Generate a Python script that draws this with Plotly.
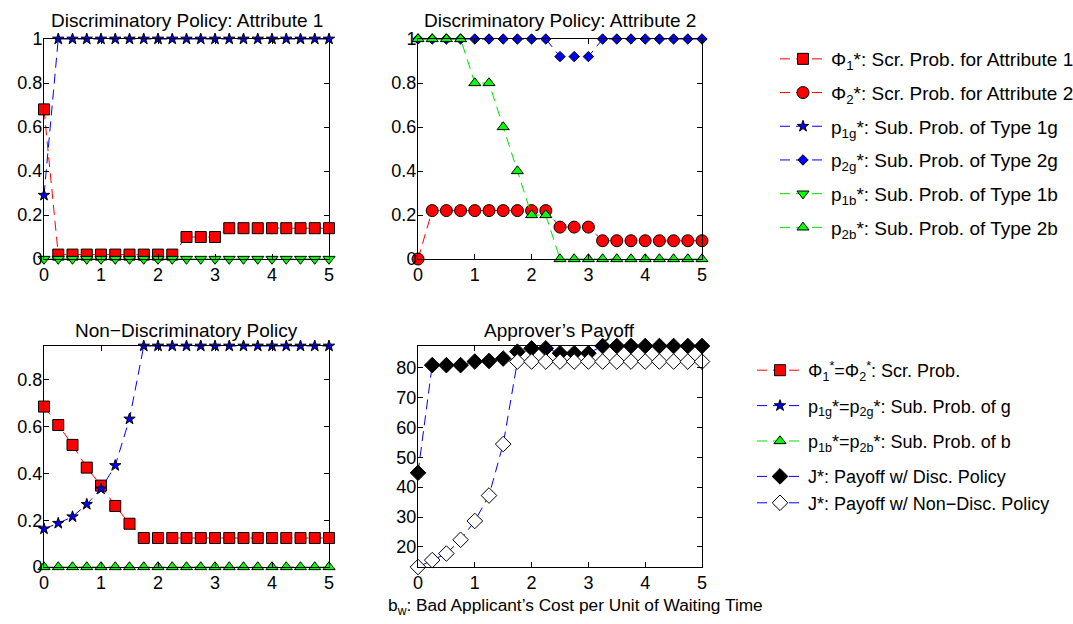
import plotly.graph_objects as go

# ---------------- data ----------------
x = [0, 0.25, 0.5, 0.75, 1.0, 1.25, 1.5, 1.75, 2.0, 2.25, 2.5,
     2.75, 3.0, 3.25, 3.5, 3.75, 4.0, 4.25, 4.5, 4.75, 5.0]

# Discriminatory policy, attribute 1
phi1 = [0.68, 0.02, 0.02, 0.02, 0.02, 0.02, 0.02, 0.02, 0.02, 0.02, 0.10,
        0.10, 0.10, 0.14, 0.14, 0.14, 0.14, 0.14, 0.14, 0.14, 0.14]
p1g = [0.29, 1, 1, 1, 1, 1, 1, 1, 1, 1, 1, 1, 1, 1, 1, 1, 1, 1, 1, 1, 1]
p1b = [0, 0, 0, 0, 0, 0, 0, 0, 0, 0, 0, 0, 0, 0, 0, 0, 0, 0, 0, 0, 0]

# Discriminatory policy, attribute 2
phi2 = [0.0, 0.22, 0.22, 0.22, 0.22, 0.22, 0.22, 0.22, 0.22, 0.22, 0.145,
        0.145, 0.145, 0.083, 0.083, 0.083, 0.083, 0.083, 0.083, 0.083, 0.083]
p2g = [1, 1, 1, 1, 1, 1, 1, 1, 1, 1, 0.92, 0.92, 0.92, 1, 1, 1, 1, 1, 1, 1, 1]
p2b = [1, 1, 1, 1, 0.8, 0.8, 0.6, 0.4, 0.2, 0.2, 0, 0, 0, 0, 0, 0, 0, 0, 0, 0, 0]

# Non-discriminatory policy
phi_nd = [0.686, 0.607, 0.522, 0.425, 0.348, 0.261, 0.185, 0.124, 0.124, 0.124, 0.124,
          0.124, 0.124, 0.124, 0.124, 0.124, 0.124, 0.124, 0.124, 0.124, 0.124]
pg_nd = [0.163, 0.187, 0.215, 0.268, 0.334, 0.434, 0.633, 0.945, 0.945, 0.945, 0.945,
         0.945, 0.945, 0.945, 0.945, 0.945, 0.945, 0.945, 0.945, 0.945, 0.945]
pb_nd = [0, 0, 0, 0, 0, 0, 0, 0, 0, 0, 0, 0, 0, 0, 0, 0, 0, 0, 0, 0, 0]

# Approver's payoff
J_disc = [44.8, 80.8, 80.8, 80.8, 82.0, 82.2, 83.0, 85.3, 86.4, 86.4, 84.8,
          84.8, 84.8, 87.2, 87.2, 87.2, 87.2, 87.2, 87.2, 87.2, 87.2]
J_nd = [13.3, 15.6, 17.8, 22.4, 28.7, 37.2, 54.4, 82.0, 82.0, 82.0, 82.0,
        82.0, 82.0, 82.0, 82.0, 82.0, 82.0, 82.0, 82.0, 82.0, 82.0]

titles = ["Discriminatory Policy: Attribute 1", "Discriminatory Policy: Attribute 2",
          "Non−Discriminatory Policy", "Approver’s Payoff"]
xlabel = "b<sub>w</sub>: Bad Applicant’s Cost per Unit of Waiting Time"
xticks = [0, 1, 2, 3, 4, 5]
yticks_prob = [0, 0.2, 0.4, 0.6, 0.8, 1]
yticks_pay = [20, 30, 40, 50, 60, 70, 80]

# ---------------- figure ----------------
W, H = 1073, 624
FONT = "Liberation Sans, Arial, Helvetica, sans-serif"
RED, BLUE, GREEN = "#FF0000", "#0000FF", "#00E000"
LIME = "#00FF00"
DASH = "10px,6px"

fig = go.Figure()


def add(xa, ya, y, name, color, symbol, size, fill, legend, group, rank):
    fig.add_trace(go.Scatter(
        x=x, y=y, xaxis=xa, yaxis=ya, name=name, mode="lines+markers",
        line=dict(color=color, width=1, dash=DASH),
        marker=dict(symbol=symbol, size=size, color=fill,
                    line=dict(color="black", width=1)),
        cliponaxis=False, legend=legend, legendgroup=group, legendrank=rank,
    ))


# top-left
add("x", "y", phi1, "Φ<sub>1</sub>*: Scr. Prob. for Attribute 1", RED, "square", 11, RED, "legend", "a1", 1)
add("x", "y", p1g, "p<sub>1g</sub>*: Sub. Prob. of Type 1g", BLUE, "star", 8.5, BLUE, "legend", "a3", 3)
add("x", "y", p1b, "p<sub>1b</sub>*: Sub. Prob. of Type 1b", GREEN, "triangle-down", 10.5, LIME, "legend", "a5", 5)
# top-right
add("x2", "y2", phi2, "Φ<sub>2</sub>*: Scr. Prob. for Attribute 2", RED, "circle", 12, RED, "legend", "a2", 2)
add("x2", "y2", p2g, "p<sub>2g</sub>*: Sub. Prob. of Type 2g", BLUE, "diamond", 8, BLUE, "legend", "a4", 4)
add("x2", "y2", p2b, "p<sub>2b</sub>*: Sub. Prob. of Type 2b", GREEN, "triangle-up", 10.5, LIME, "legend", "a6", 6)
# bottom-left
add("x3", "y3", phi_nd, "Φ<sub>1</sub><sup>*</sup>=Φ<sub>2</sub><sup>*</sup>: Scr. Prob.", RED, "square", 11, RED, "legend2", "b1", 1)
add("x3", "y3", pg_nd, "p<sub>1g</sub>*=p<sub>2g</sub>*: Sub. Prob. of g", BLUE, "star", 8.5, BLUE, "legend2", "b2", 2)
add("x3", "y3", pb_nd, "p<sub>1b</sub>*=p<sub>2b</sub>*: Sub. Prob. of b", GREEN, "triangle-up", 10.5, LIME, "legend2", "b3", 3)
# bottom-right
add("x4", "y4", J_disc, "J*: Payoff w/ Disc. Policy", BLUE, "diamond", 12, "black", "legend2", "b4", 4)
add("x4", "y4", J_nd, "J*: Payoff w/ Non−Disc. Policy", BLUE, "diamond", 12, "white", "legend2", "b4", 5)

# domains in pixels
xl = [44 / W, 329 / W]
xr = [418 / W, 702 / W]
yt = [1 - 259 / H, 1 - 39 / H]
yb = [1 - 567 / H, 1 - 346 / H]

axis_common = dict(showline=True, linecolor="black", linewidth=1, mirror="ticks",
                   ticks="inside", ticklen=5, tickcolor="black", showgrid=False,
                   zeroline=False, tickfont=dict(size=18, color="black", family=FONT))
xa_common = dict(range=[0, 5], tickvals=xticks, ticklabelstandoff=-1, **axis_common)
ya_common = dict(ticklabelstandoff=-3, **axis_common)

fig.update_layout(
    width=W, height=H, margin=dict(l=0, r=0, t=0, b=0, pad=0, autoexpand=False),
    paper_bgcolor="white", plot_bgcolor="white",
    font=dict(family=FONT, color="black"),
    xaxis=dict(domain=xl, anchor="y", **xa_common),
    yaxis=dict(domain=yt, anchor="x", range=[0, 1], tickvals=yticks_prob, **ya_common),
    xaxis2=dict(domain=xr, anchor="y2", **xa_common),
    yaxis2=dict(domain=yt, anchor="x2", range=[0, 1], tickvals=yticks_prob, **ya_common),
    xaxis3=dict(domain=xl, anchor="y3", **xa_common),
    yaxis3=dict(domain=yb, anchor="x3", range=[0, max(pg_nd)], tickvals=yticks_prob[:-1], **ya_common),
    xaxis4=dict(domain=xr, anchor="y4", **xa_common),
    yaxis4=dict(domain=yb, anchor="x4", range=[min(J_nd), max(J_disc)], tickvals=yticks_pay, **ya_common),
    legend=dict(x=775 / W, y=1 - 40 / H, xanchor="left", yanchor="top",
                font=dict(size=19, family=FONT, color="black"), tracegroupgap=6,
                bgcolor="rgba(0,0,0,0)", itemwidth=46),
    legend2=dict(x=752 / W, y=1 - 352 / H, xanchor="left", yanchor="top",
                 font=dict(size=18, family=FONT, color="black"), tracegroupgap=9,
                 bgcolor="rgba(0,0,0,0)", itemwidth=46),
    showlegend=True,
)

# subplot titles
title_pos = [((xl[0] + xl[1]) / 2, 1 - 21 / H), ((xr[0] + xr[1]) / 2, 1 - 21 / H),
             ((xl[0] + xl[1]) / 2, 1 - 330 / H), ((xr[0] + xr[1]) / 2, 1 - 330 / H)]
for t, (tx, ty) in zip(titles, title_pos):
    fig.add_annotation(text=t, x=tx, y=ty, xref="paper", yref="paper", showarrow=False,
                       xanchor="center", yanchor="middle",
                       font=dict(size=19, family=FONT, color="black"))
fig.add_annotation(text=xlabel, x=575 / W, y=1 - 606 / H, xref="paper", yref="paper",
                   showarrow=False, xanchor="center", yanchor="middle",
                   font=dict(size=17.3, family=FONT, color="black"))

fig.write_html("out.html")
